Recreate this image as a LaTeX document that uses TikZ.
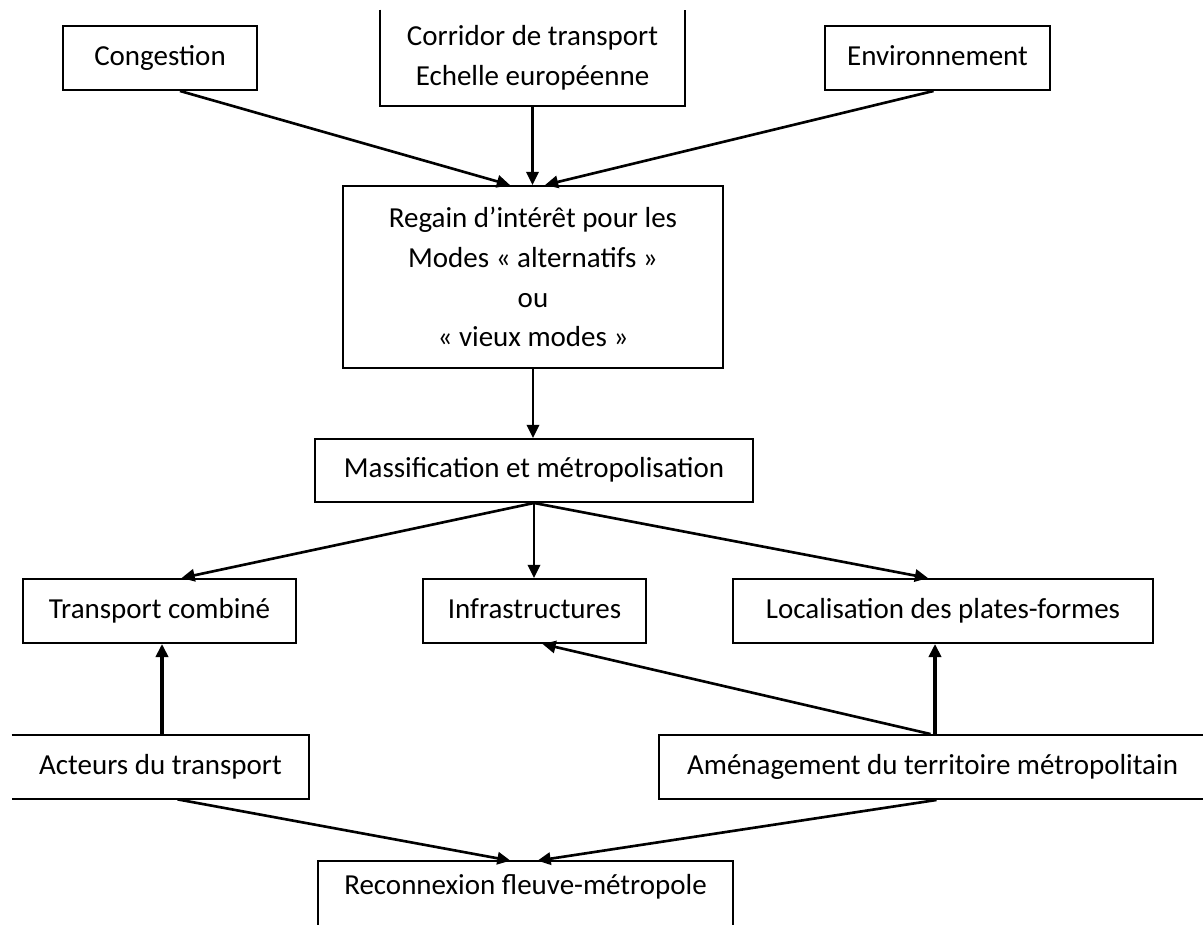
\documentclass[tikz,border=0pt]{standalone}
\usepackage{fontspec}
\setmainfont{Carlito}
\usetikzlibrary{arrows.meta,positioning,calc}

\begin{document}
\begin{tikzpicture}[x=0.02cm, y=-0.02cm, font=\fontsize{16.5}{22.7}\selectfont,
    dims/.style 2 args={minimum width=#1*0.02cm, minimum height=#2*0.02cm},
    box/.style={draw, line width=1.1pt, align=center, inner sep=0pt},
    openbox/.style={align=center, inner sep=0pt},
    oneline/.style={text height=11.5pt, text depth=3.5pt},
    arr/.style={line width=1.5pt, -{Triangle[length=7.5pt,width=7pt]}},
    uparr/.style={line width=2.4pt, -{Triangle[length=7.5pt,width=7pt]}}]
    \useasboundingbox (0,0) rectangle (1203,924);

    % Top row
    \node[box, oneline, dims={194}{64}] (cong) at (160,58) {Congestion};
    \node[openbox, dims={305}{96}] (corr) at (532.5,58) {Corridor de transport\\Echelle européenne};
    \node[box, oneline, dims={225}{64}] (env) at (937.5,58) {Environnement};
    \draw[line width=1.1pt] (corr.north west) -- (corr.south west) -- (corr.south east) -- (corr.north east);

    % Centre
    \node[box, dims={380}{182}] (regain) at (533,277)
        {Regain d'intérêt pour les\\Modes « alternatifs »\\ou\\« vieux modes »};
    \node[box, oneline, dims={438}{63}] (massif) at (534,470.5) {Massification et métropolisation};

    % Third row
    \node[box, oneline, dims={273}{64}] (tc) at (159.5,611) {Transport combiné};
    \node[box, oneline, dims={223}{64}] (infra) at (534.5,611) {Infrastructures};
    \node[box, oneline, dims={420}{64}] (loc) at (943,611) {Localisation des plates-formes};

    % Fourth row
    \node[openbox, oneline, dims={297}{64}] (act) at (160.5,767) {Acteurs du transport};
    \draw[line width=1.1pt] (act.north west) -- (act.north east) -- (act.south east) -- (act.south west);
    \node[box, oneline, dims={547}{64}] (amen) at (932.5,767) {Aménagement du territoire métropolitain};

    % Bottom
    \node[openbox, oneline, dims={415}{52}] (recon) at (525.5,887) {Reconnexion fleuve-métropole};
    \draw[line width=1.1pt] ($(recon.south west)+(0,20)$) -- (recon.north west) -- (recon.north east) -- ($(recon.south east)+(0,20)$);

    % Arrow ends
    \coordinate (actup) at ($(act.north)+(1.5,0)$);
    \coordinate (amenup) at ($(amen.north)+(2.5,0)$);

    % Arrows
    \draw[arr] ($(cong.south)+(20,0)$) -- ($(regain.north)+(-23,0)$);
    \draw[arr] (corr.south) -- (corr.south |- regain.north);
    \draw[arr] ($(env.south)+(-4,0)$) -- ($(regain.north)+(12,0)$);
    \draw[arr] (regain.south) -- (regain.south |- massif.north);
    \draw[arr] (massif.south) -- ($(tc.north)+(22,0)$);
    \draw[arr] (massif.south) -- (massif.south |- infra.north);
    \draw[arr] (massif.south) -- ($(loc.north)+(-15,0)$);
    \draw[uparr] (actup) -- (actup |- tc.south);
    \draw[uparr] (amenup) -- (amenup |- loc.south);
    \draw[arr] ($(amen.north)+(-2,0)$) -- ($(infra.south)+(8,0)$);
    \draw[arr] ($(act.south)+(17,0)$) -- ($(recon.north)+(-15,0)$);
    \draw[arr] ($(amen.south)+(4,0)$) -- ($(recon.north)+(12,0)$);
\end{tikzpicture}
\end{document}
